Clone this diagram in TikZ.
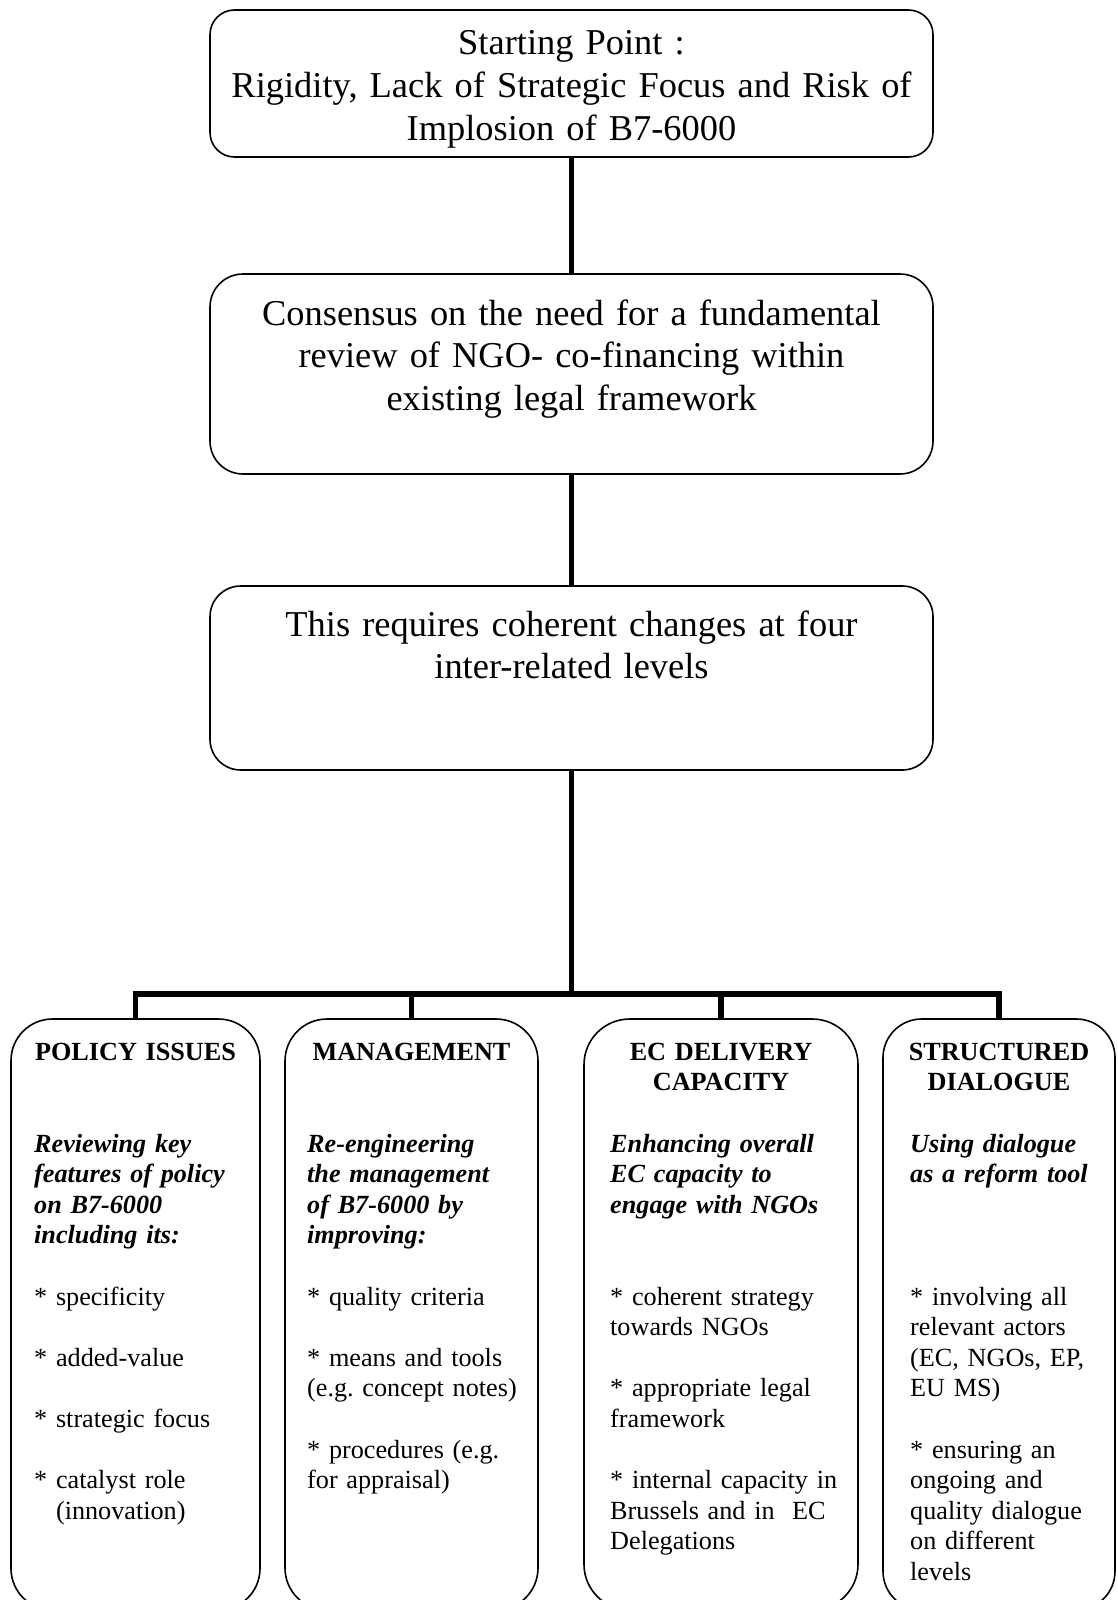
\documentclass[tikz,border=0pt]{standalone}
\usepackage{fontspec}
\setmainfont{Liberation Serif}
\usetikzlibrary{positioning,calc}
\frenchspacing

\tikzset{
  topbox/.style={draw, line width=1.6pt, inner sep=0pt, outer sep=0pt, minimum width=723pt},
  levelbox/.style={draw, line width=1.6pt, inner sep=0pt, outer sep=0pt, minimum height=591pt},
  link/.style={line width=5.5pt},
  toptext/.style={anchor=base, inner sep=0pt, text width=715pt, align=center,
    font=\fontsize{36.4}{42.8}\selectfont},
  headtext/.style={anchor=base, inner sep=0pt, text width=230pt, align=center,
    font=\fontsize{26.2}{30.6}\selectfont\bfseries},
  bodytext/.style={anchor=base west, inner sep=0pt, text width=260pt, align=left,
    font=\fontsize{26.2}{30.6}\selectfont},
}

\begin{document}
\begin{tikzpicture}[x=1pt, y=-1pt]
    % page frame, the four lower boxes run off the bottom edge
    \useasboundingbox (0,0) rectangle (1117,1600);
    \clip (0,0) rectangle (1117,1600);

    % three stacked boxes
    \node[topbox, minimum height=147pt, rounded corners=24.5pt] (start) at (571.5,83.5) {};
    \node[topbox, minimum height=200pt, rounded corners=33pt] (review) at (571.5,374) {};
    \node[topbox, minimum height=184pt, rounded corners=30.7pt] (levels) at (571.5,678) {};

    \node[toptext] (starttext) at ([yshift=-45pt]start.north)
      {Starting Point :\\ Rigidity, Lack of Strategic Focus and Risk of\\ Implosion of B7-6000};
    \node[toptext] (reviewtext) at ([yshift=-51pt]review.north)
      {Consensus on the need for a fundamental\\ review of NGO- co-financing within\\ existing legal framework};
    \node[toptext] (levelstext) at ([yshift=-50pt]levels.north)
      {This requires coherent changes at four\\ inter-related levels};

    % the four levels
    \node[levelbox, minimum width=249pt, rounded corners=41.5pt] (policy) at (135.5,1314.5) {};
    \node[levelbox, minimum width=253pt, rounded corners=42pt] (management) at (411.5,1314.5) {};
    \node[levelbox, minimum width=274pt, rounded corners=45.7pt] (delivery) at (721,1314.5) {};
    \node[levelbox, minimum width=232pt, rounded corners=38.7pt] (dialogue) at (999,1314.5) {};

    \node[headtext] (policyhead) at ([yshift=-41pt]policy.north) {POLICY ISSUES};
    \node[headtext] (managementhead) at ([yshift=-41pt]management.north) {MANAGEMENT};
    \node[headtext] (deliveryhead) at ([yshift=-41pt]delivery.north) {EC DELIVERY\\ CAPACITY};
    \node[headtext] (dialoguehead) at ([yshift=-41pt]dialogue.north) {STRUCTURED\\ DIALOGUE};

    \node[bodytext] (policybody) at ([shift={(23pt,-133pt)}]policy.north west)
      {{\bfseries\itshape Reviewing key\\ features of policy\\ on B7-6000\\ including its:}\\[30.6pt]
       * specificity\\[30.6pt]
       * added-value\\[30.6pt]
       * strategic focus\\[30.6pt]
       * catalyst role\\ \hphantom{*}\ (innovation)};
    \node[bodytext] (managementbody) at ([shift={(22pt,-133pt)}]management.north west)
      {{\bfseries\itshape Re-engineering\\ the management\\ of B7-6000 by\\ improving:}\\[30.6pt]
       * quality criteria\\[30.6pt]
       * means and tools\\ (e.g. concept notes)\\[30.6pt]
       * procedures (e.g.\\ for appraisal)};
    \node[bodytext] (deliverybody) at ([shift={(26pt,-133pt)}]delivery.north west)
      {{\bfseries\itshape Enhancing overall\\ EC capacity to\\ engage with NGOs}\\[61.2pt]
       * coherent strategy\\ towards NGOs\\[30.6pt]
       * appropriate legal\\ framework\\[30.6pt]
       * internal capacity in\\ Brussels and in\ \ EC\\ Delegations};
    \node[bodytext] (dialoguebody) at ([shift={(27pt,-133pt)}]dialogue.north west)
      {{\bfseries\itshape Using dialogue\\ as a reform tool}\\[91.8pt]
       * involving all\\ relevant actors\\ (EC, NGOs, EP,\\ EU MS)\\[30.6pt]
       * ensuring an\\ ongoing and\\ quality dialogue\\ on different\\ levels};

    % connectors
    \coordinate (fork) at (571.5,994);
    \draw[link] (start) -- (review);
    \draw[link] (review) -- (levels);
    \draw[link] (levels) -- (fork);
    \draw[link] (policy) |- (fork) -| (dialogue);
    \draw[link] (management) -- (management |- fork);
    \draw[link] (delivery) -- (delivery |- fork);
\end{tikzpicture}
\end{document}
